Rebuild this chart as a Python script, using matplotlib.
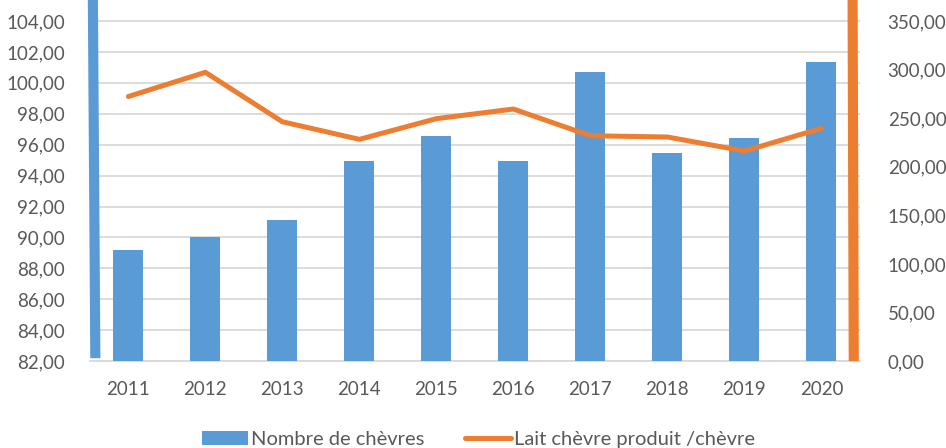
import matplotlib
matplotlib.use("Agg")
import matplotlib.pyplot as plt
import numpy as np

years = ["2011", "2012", "2013", "2014", "2015", "2016", "2017", "2018", "2019", "2020"]
goats = [89.2, 90.05, 91.13, 94.96, 96.58, 94.94, 100.68, 95.46, 96.45, 101.35]
milk_per_goat = [272.3, 297.2, 246.3, 228.2, 249.5, 259.4, 231.9, 230.6, 216.2, 239.5]
left_ticks = [82, 84, 86, 88, 90, 92, 94, 96, 98, 100, 102, 104]
right_ticks = [0, 50, 100, 150, 200, 250, 300, 350]

plt.rcParams['font.family'] = ['Lato', 'DejaVu Sans']
grey = '#595959'
blue = '#5b9bd5'
orange = '#ed7d31'

fig = plt.figure(figsize=(9.46, 4.48), dpi=100)
ax = fig.add_axes([0.095, 0.194, 0.814, 0.806])
ax2 = ax.twinx()

x = np.arange(len(years))
ax.bar(x, goats, width=0.39, color=blue, bottom=0, zorder=3, label='Nombre de chèvres')
ax.set_ylim(82, 105.36)
ax.set_xlim(-0.5, len(years) - 0.5)
ax.set_yticks(left_ticks)
ax.set_yticklabels([f"{v:.2f}".replace('.', ',') for v in left_ticks])
ax.grid(axis='y', color='#d9d9d9', linewidth=1.3, zorder=0)
ax.set_axisbelow(True)
ax.set_xticks(x)
ax.set_xticklabels(years)

ax2.plot(x, milk_per_goat, color=orange, linewidth=3.6, solid_capstyle='round', zorder=4,
         label='Lait chèvre produit /chèvre')
ax2.set_ylim(0, 371.6)
ax2.set_yticks(right_ticks)
ax2.set_yticklabels([f"{v:.2f}".replace('.', ',') for v in right_ticks])

for a in (ax, ax2):
    for s in a.spines.values():
        s.set_visible(False)
    a.tick_params(length=0, labelsize=13.5, labelcolor=grey)
ax.tick_params(axis='x', pad=14)
ax.tick_params(axis='y', pad=18)
ax2.tick_params(axis='y', pad=20)
ax.spines['bottom'].set_visible(True)
ax.spines['bottom'].set_color('#d9d9d9')
ax.spines['bottom'].set_linewidth(1.3)

# decorative thick vertical strokes at the axis edges
ax.plot([0.0039, 0.0071], [1.0, 0.008], transform=ax.transAxes, color=blue,
        linewidth=7.3, solid_capstyle='butt', clip_on=False, zorder=5)
ax.plot([0.9905, 0.992], [1.0, 0.0], transform=ax.transAxes, color=orange,
        linewidth=7.3, solid_capstyle='butt', clip_on=False, zorder=5)

h1, l1 = ax.get_legend_handles_labels()
h2, l2 = ax2.get_legend_handles_labels()
fig.legend(h1 + h2, l1 + l2, loc='lower center', bbox_to_anchor=(0.506, -0.04), ncol=2,
           frameon=False, fontsize=14.5, labelcolor=grey, handlelength=2.3,
           handletextpad=0.15, columnspacing=2.0)

fig.savefig('out.png', dpi=100)
